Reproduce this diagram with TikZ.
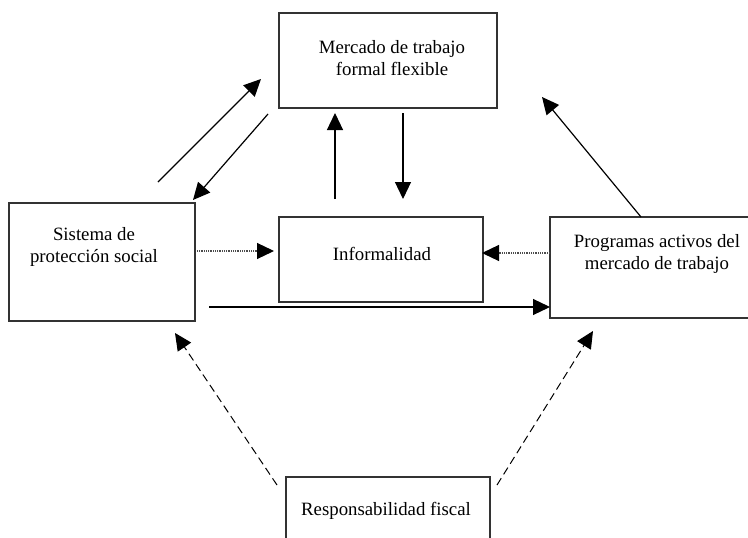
\documentclass[tikz,border=0pt]{standalone}
\usepackage{fontspec}
\setmainfont{Liberation Serif}
\usetikzlibrary{arrows.meta}

\tikzset{
	box/.style={draw=black!80, line width=1.3pt, inner sep=0pt},
	lbl/.style={align=center, inner sep=0pt, font=\fontsize{18.8}{21.5}\selectfont},
	flecha/.style={line width=1.2pt, -{Triangle[length=17pt, width=16pt, black]}},
	punteada/.style={flecha, black!70, dash pattern=on 1pt off 0.8pt},
	rayada/.style={flecha, line width=1pt, dash pattern=on 8pt off 4.5pt}
}

\begin{document}
\begin{tikzpicture}[x=1pt, y=-1pt]
			%%%%% START %%%%%
			\clip (0, 0) rectangle (748, 538);
			
			% cajas
			\node[box, minimum width=218, minimum height=95] (mercado) at (388, 60.5) {};
			\node[box, minimum width=204, minimum height=85] (informal) at (381, 259.5) {};
			\node[box, minimum width=186, minimum height=118] (sistema) at (102, 262) {};
			\node[box, minimum width=205, minimum height=101] (programas) at (652.5, 267.5) {};
			\node[box, minimum width=204, minimum height=100] (fiscal) at (388, 527) {};
			
			% textos
			\node[lbl] (mercadotxt) at (392, 58) {Mercado de trabajo\\formal flexible};
			\node[lbl] at (382, 254) {Informalidad};
			\node[lbl] (sistematxt) at (94, 247) {Sistema de\\protección social};
			\node[lbl] (programastxt) at (657, 254) {Programas activos del\\mercado de trabajo};
			\node[lbl] at (386, 511) {Responsabilidad fiscal};
			
			% extremos de las flechas
			\coordinate (s1) at (158, 182);
			\coordinate (m1) at (261, 79);
			\coordinate (m2) at (268, 114);
			\coordinate (s2) at (193, 200);
			\coordinate (i1) at (335, 199);
			\coordinate (m3) at (335, 113);
			\coordinate (m4) at (403, 113);
			\coordinate (i2) at (403, 199);
			\coordinate (s3) at (197, 251);
			\coordinate (i3) at (274, 251);
			\coordinate (p1) at (550, 253);
			\coordinate (i4) at (482, 253);
			\coordinate (s4) at (209, 307);
			\coordinate (p2) at (550, 307);
			\coordinate (p3) at (641, 217);
			\coordinate (m5) at (542, 97);
			\coordinate (f1) at (277, 485);
			\coordinate (s5) at (175, 333);
			\coordinate (f2) at (497, 485);
			\coordinate (p4) at (593, 331);
			
			\draw[flecha] (s1) -- (m1);
			\draw[flecha] (m2) -- (s2);
			\draw[flecha] (i1) -- (m3);
			\draw[flecha] (m4) -- (i2);
			\draw[punteada] (s3) -- (i3);
			\draw[punteada] (p1) -- (i4);
			\draw[flecha] (s4) -- (p2);
			\draw[flecha] (p3) -- (m5);
			\draw[rayada] (f1) -- (s5);
			\draw[rayada] (f2) -- (p4);
			
			%%%%% END %%%%%
\end{tikzpicture}
\end{document}
